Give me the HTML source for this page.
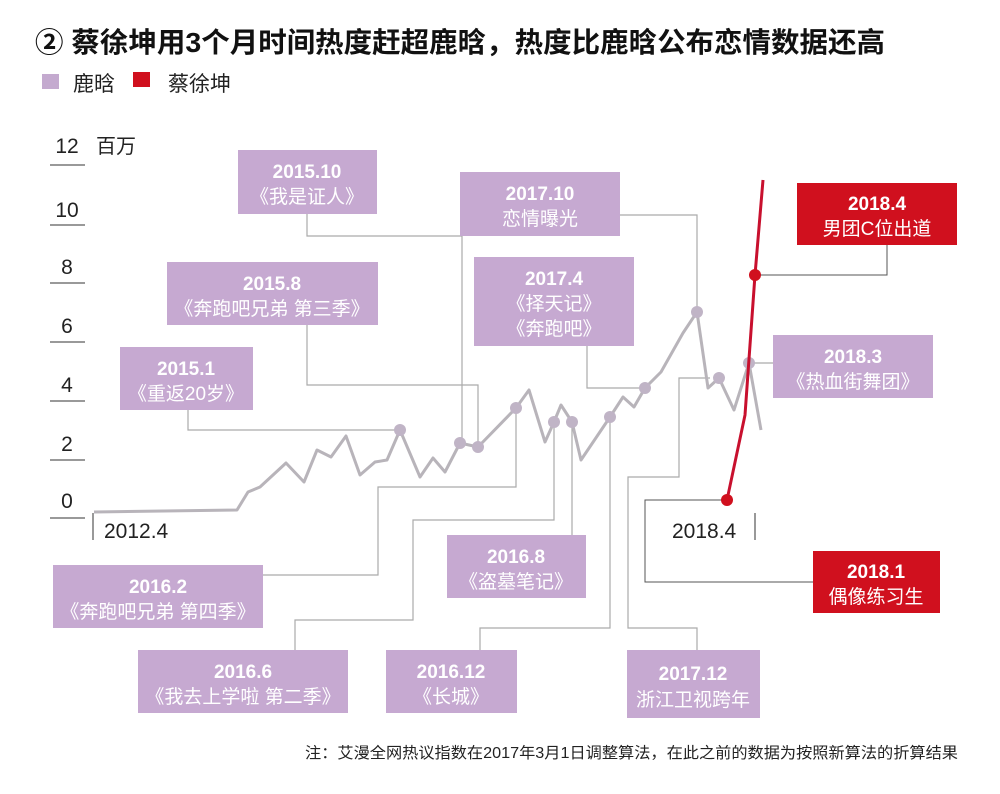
<!DOCTYPE html>
<html><head><meta charset="utf-8"><style>
body{margin:0;background:#fff;}
svg{display:block;font-family:"Liberation Sans","Noto Sans CJK SC",sans-serif;}
</style></head><body>
<svg width="1000" height="794" viewBox="0 0 1000 794" xmlns="http://www.w3.org/2000/svg">
<rect width="1000" height="794" fill="#fff"/>
<text x="35" y="52" font-size="28" font-weight="bold" fill="#111" textLength="850" lengthAdjust="spacingAndGlyphs">② 蔡徐坤用3个月时间热度赶超鹿晗，热度比鹿晗公布恋情数据还高</text>
<rect x="42" y="74" width="17" height="15" fill="#c4aacf"/>
<text x="73" y="91" font-size="21" fill="#222">鹿晗</text>
<rect x="133" y="72" width="17" height="15" fill="#d0101e"/>
<text x="168" y="91" font-size="21" fill="#222">蔡徐坤</text>

<g font-size="21" fill="#222" text-anchor="middle">
<text x="67" y="153">12</text><text x="67" y="217">10</text><text x="67" y="274">8</text>
<text x="67" y="333">6</text><text x="67" y="392">4</text><text x="67" y="451">2</text><text x="67" y="508">0</text>
</g>
<text x="96" y="153" font-size="20" fill="#222">百万</text>
<g stroke="#333" stroke-width="1">
<line x1="50" y1="165" x2="85" y2="165"/><line x1="50" y1="225" x2="85" y2="225"/>
<line x1="50" y1="283" x2="85" y2="283"/><line x1="50" y1="342" x2="85" y2="342"/>
<line x1="50" y1="401" x2="85" y2="401"/><line x1="50" y1="460" x2="85" y2="460"/>
<line x1="50" y1="518" x2="85" y2="518"/>
<line x1="93" y1="513" x2="93" y2="540"/><line x1="755" y1="513" x2="755" y2="540"/>
</g>
<text x="104" y="538" font-size="21" fill="#222">2012.4</text>
<text x="672" y="538" font-size="21" fill="#222">2018.4</text>

<g fill="none" stroke="#aaa" stroke-width="1.2">
<polyline points="307,214 307,236 462,236 462,443"/>
<polyline points="307,325 307,385 478,385 478,447"/>
<polyline points="188,410 188,430 400,430"/>
<polyline points="620,215 697,215 697,312"/>
<polyline points="587,346 587,388 645,388"/>
<polyline points="263,575 378,575 378,487 516,487 516,408"/>
<polyline points="295,650 295,620 413,620 413,520 554,520 554,422"/>
<polyline points="572,422 572,535"/>
<polyline points="480,650 480,628 610,628 610,417"/>
<polyline points="697,650 697,628 628,628 628,477 679,477 679,378 710,378"/>
<polyline points="749,363 773,363"/>
</g>
<g fill="none" stroke="#555" stroke-width="1">
<polyline points="757,275 887,275 887,245"/>
<polyline points="727,500 645,500 645,582 813,582"/>
</g>

<polyline fill="none" stroke="#b8b4ba" stroke-width="3" stroke-linejoin="round" points="94,512 237,510 248,492 260,487 286,463 304,482 317,450 331,457 346,436 360,475 375,462 387,460 400,430 420,477 433,458 445,472 460,443 478,447 516,408 529,390 545,442 554,422 561,405 572,422 581,460 610,417 623,397 634,407 645,388 661,372 683,333 697,312 708,388 719,378 734,410 749,363 761,430"/>
<g fill="#c0b4c6">
<circle cx="400" cy="430" r="6"/><circle cx="460" cy="443" r="6"/><circle cx="478" cy="447" r="6"/>
<circle cx="516" cy="408" r="6"/><circle cx="554" cy="422" r="6"/><circle cx="572" cy="422" r="6"/>
<circle cx="610" cy="417" r="6"/><circle cx="645" cy="388" r="6"/><circle cx="697" cy="312" r="6"/>
<circle cx="719" cy="378" r="6"/><circle cx="749" cy="363" r="6"/>
</g>
<polyline fill="none" stroke="#c8102e" stroke-width="3" points="727,500 745,415 755,275 763,180"/>
<circle cx="727" cy="500" r="6" fill="#d0101e"/><circle cx="755" cy="275" r="6" fill="#d0101e"/>

<g fill="#c6a9d1">
<rect x="238" y="150" width="139" height="64"/>
<rect x="167" y="262" width="211" height="63"/>
<rect x="120" y="347" width="133" height="63"/>
<rect x="460" y="172" width="160" height="64"/>
<rect x="474" y="257" width="160" height="89"/>
<rect x="773" y="335" width="160" height="63"/>
<rect x="53" y="565" width="210" height="63"/>
<rect x="138" y="650" width="210" height="63"/>
<rect x="447" y="535" width="139" height="63"/>
<rect x="386" y="650" width="131" height="63"/>
<rect x="627" y="650" width="133" height="68"/>
</g>
<rect x="797" y="183" width="160" height="62" fill="#d0101e"/>
<rect x="813" y="551" width="127" height="62" fill="#d0101e"/>

<g fill="#fff" text-anchor="middle" font-size="19">
<text x="307" y="178" font-weight="bold">2015.10</text><text x="307" y="203">《我是证人》</text>
<text x="272" y="290" font-weight="bold">2015.8</text><text x="272" y="315">《奔跑吧兄弟 第三季》</text>
<text x="186" y="375" font-weight="bold">2015.1</text><text x="186" y="400">《重返20岁》</text>
<text x="540" y="200" font-weight="bold">2017.10</text><text x="540" y="225">恋情曝光</text>
<text x="554" y="285" font-weight="bold">2017.4</text><text x="554" y="310">《择天记》</text><text x="554" y="335">《奔跑吧》</text>
<text x="853" y="363" font-weight="bold">2018.3</text><text x="853" y="388">《热血街舞团》</text>
<text x="158" y="593" font-weight="bold">2016.2</text><text x="158" y="618">《奔跑吧兄弟 第四季》</text>
<text x="243" y="678" font-weight="bold">2016.6</text><text x="243" y="703">《我去上学啦 第二季》</text>
<text x="516" y="563" font-weight="bold">2016.8</text><text x="516" y="588">《盗墓笔记》</text>
<text x="451" y="678" font-weight="bold">2016.12</text><text x="451" y="703">《长城》</text>
<text x="693" y="680" font-weight="bold">2017.12</text><text x="693" y="706">浙江卫视跨年</text>
<text x="877" y="210" font-weight="bold">2018.4</text><text x="877" y="235">男团C位出道</text>
<text x="876" y="578" font-weight="bold">2018.1</text><text x="876" y="603">偶像练习生</text>
</g>
<text x="958" y="758" font-size="15.5" fill="#222" text-anchor="end" textLength="653" lengthAdjust="spacingAndGlyphs">注：艾漫全网热议指数在2017年3月1日调整算法，在此之前的数据为按照新算法的折算结果</text>
</svg>
</body></html>
